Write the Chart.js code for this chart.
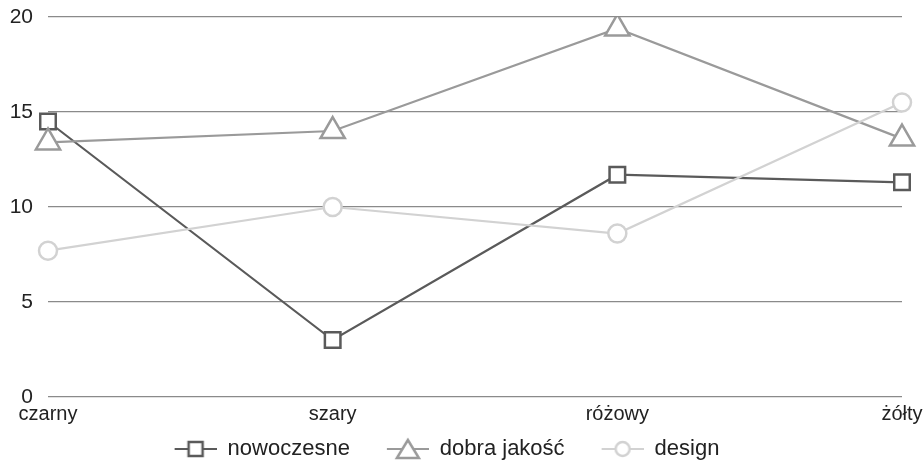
<!DOCTYPE html>
<html>
<head>
<meta charset="utf-8">
<script src="https://cdn.jsdelivr.net/npm/chart.js@4"></script>
<style>
  html, body { margin: 0; padding: 0; background: #fff; }
  #wrap { width: 924px; height: 472px; }
</style>
</head>
<body>
<div id="wrap"><canvas id="chart"></canvas></div>
<script>
// Categories and series
const categories = ['czarny', 'szary', 'różowy', 'żółty'];
const nowoczesne = [14.5, 3.0, 11.7, 11.3];
const dobraJakosc = [13.4, 14.0, 19.4, 13.6];
const design = [7.7, 10.0, 8.6, 15.5];
const yTicks = [0, 5, 10, 15, 20];

const FONT = '"Liberation Sans", Arial, Helvetica, sans-serif';
const GAP = 30; // blank space in front of each legend icon

// Legend marker: short line with the point symbol in the middle
function legendIcon(style, color) {
    const c = document.createElement('canvas');
    c.width = 42 + GAP;
    c.height = 24;
    const ctx = c.getContext('2d');
    ctx.translate(GAP, 0);
    ctx.strokeStyle = color;
    ctx.lineWidth = 2;
    ctx.beginPath();
    ctx.moveTo(0, 12);
    ctx.lineTo(42, 12);
    ctx.stroke();
    ctx.fillStyle = '#fff';
    ctx.lineWidth = 2.5;
    ctx.beginPath();
    if (style === 'rect') {
        ctx.rect(14, 5, 14, 14);
    } else if (style === 'triangle') {
        ctx.moveTo(21, 3);
        ctx.lineTo(32, 21);
        ctx.lineTo(10, 21);
        ctx.closePath();
    } else {
        ctx.arc(21, 12, 7, 0, Math.PI * 2);
    }
    ctx.fill();
    ctx.stroke();
    return c;
}

const series = [
    { label: 'nowoczesne', data: nowoczesne, color: '#5a5a5a', style: 'rect', radius: 11 },
    { label: 'dobra jakość', data: dobraJakosc, color: '#9a9a9a', style: 'triangle', radius: 14 },
    { label: 'design', data: design, color: '#d2d2d2', style: 'circle', radius: 9 }
];

// the first icon's blank gap should not push the legend row to the right
const legendShift = {
    id: 'legendShift',
    afterLayout(chart) {
        if (chart.legend && chart.legend.lineWidths) {
            chart.legend.lineWidths[0] += GAP * 2;
        }
    }
};

new Chart(document.getElementById('chart'), {
    type: 'line',
    data: {
        labels: categories,
        datasets: series.map(s => ({
            label: s.label,
            data: s.data,
            borderColor: s.color,
            backgroundColor: '#fff',
            borderWidth: 2.2,
            pointStyle: s.style,
            pointRadius: s.radius,
            pointBorderWidth: 2.5,
            pointBorderColor: s.color,
            pointBackgroundColor: '#fff',
            tension: 0
        })).reverse()
    },
    plugins: [legendShift],
    options: {
        responsive: true,
        maintainAspectRatio: false,
        animation: false,
        layout: { padding: { left: 0, right: 0, top: 0, bottom: 2 } },
        plugins: {
            tooltip: { enabled: false },
            legend: {
                position: 'bottom',
                reverse: true,
                labels: {
                    usePointStyle: true,
                    pointStyleWidth: 42 + GAP,
                    padding: 7,
                    color: '#222',
                    font: { family: FONT, size: 22 },
                    generateLabels: function(chart) {
                        return chart.data.datasets.map((ds, i) => {
                            const s = series.find(x => x.label === ds.label);
                            return {
                                text: ds.label,
                                pointStyle: legendIcon(s.style, s.color),
                                fillStyle: '#fff',
                                strokeStyle: s.color,
                                lineWidth: 0,
                                fontColor: '#222',
                                hidden: false,
                                datasetIndex: i
                            };
                        });
                    }
                }
            }
        },
        scales: {
            x: {
                offset: false,
                afterFit: axis => { axis.paddingLeft = 0; axis.paddingRight = 22; },
                grid: { display: false, drawTicks: false },
                border: { display: false },
                ticks: {
                    color: '#222',
                    padding: 5,
                    maxRotation: 0,
                    font: { family: FONT, size: 20 }
                }
            },
            y: {
                min: 0,
                max: 20,
                afterBuildTicks: axis => { axis.ticks = yTicks.map(v => ({ value: v })); },
                afterFit: axis => {
                    axis.width = 48;
                    axis.paddingTop = 17;
                    axis.paddingBottom = 0;
                },
                grid: { color: '#8a8a8a', lineWidth: 1.2, drawTicks: false },
                border: { display: false },
                ticks: {
                    color: '#222',
                    padding: 15,
                    font: { family: FONT, size: 21 }
                }
            }
        }
    }
});
</script>
</body>
</html>
